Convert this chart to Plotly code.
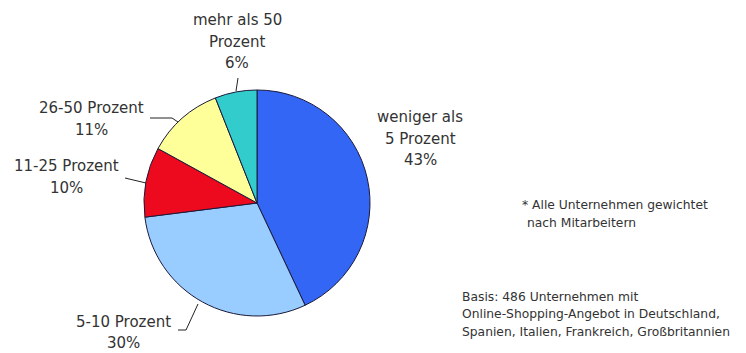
import plotly.graph_objects as go

# Anteil des Online-Umsatzes am Gesamtumsatz (Unternehmen gewichtet nach Mitarbeitern)
categories = ["weniger als 5 Prozent", "5-10 Prozent", "11-25 Prozent",
              "26-50 Prozent", "mehr als 50 Prozent"]
shares = [43, 30, 10, 11, 6]
colors = ["#3366F5", "#99CCFF", "#EE0A1E", "#FFFF99", "#33CCCC"]

W, H = 746, 353
TEXT = "#333333"
FONT = "DejaVu Sans, Verdana, sans-serif"


def px(x):
    return x / W


def py(y):
    return 1 - y / H


# pie centre and radius in pixels
cx, cy, r = 257, 203, 113

fig = go.Figure(go.Pie(
    labels=categories,
    values=shares,
    sort=False,
    direction="clockwise",
    rotation=0,
    marker=dict(colors=colors, line=dict(color="#1a1a3a", width=1)),
    textinfo="none",
    hoverinfo="label+percent",
    showlegend=False,
    domain=dict(x=[px(cx - r), px(cx + r)], y=[py(cy + r), py(cy - r)]),
))

# slice labels: text lines, horizontal centre, line centres (pixels)
label_lines = {
    "mehr als 50 Prozent": (["mehr als 50", "Prozent", f"{shares[4]}%"], 237, [20, 42, 63]),
    "weniger als 5 Prozent": (["weniger als", "5 Prozent", f"{shares[0]}%"], 420, [117, 139, 160]),
    "26-50 Prozent": (["26-50 Prozent", f"{shares[3]}%"], 91, [108, 130]),
    "11-25 Prozent": (["11-25 Prozent", f"{shares[2]}%"], 66, [166, 188]),
    "5-10 Prozent": (["5-10 Prozent", f"{shares[1]}%"], 123, [322, 343]),
}

annotations = []
for name, (lines, xc, ys) in label_lines.items():
    for txt, yy in zip(lines, ys):
        annotations.append(dict(
            x=px(xc), y=py(yy), xref="paper", yref="paper",
            text=txt, showarrow=False, xanchor="center", yanchor="middle",
            font=dict(family=FONT, size=15, color=TEXT),
        ))

notes = [
    ("* Alle Unternehmen gewichtet", 520, 205),
    ("nach Mitarbeitern", 525, 223),
    ("Basis: 486 Unternehmen mit", 460, 297),
    ("Online-Shopping-Angebot in Deutschland,", 460, 314),
    ("Spanien, Italien, Frankreich, Großbritannien", 460, 332),
]
for txt, xx, yy in notes:
    annotations.append(dict(
        x=px(xx), y=py(yy), xref="paper", yref="paper",
        text=txt, showarrow=False, xanchor="left", yanchor="middle",
        font=dict(family=FONT, size=12.3, color=TEXT),
    ))

# leader lines from labels to slices (pixel paths)
leaders = [
    [(238, 78), (236, 91)],
    [(150, 118), (172, 118), (178, 122)],
    [(125, 178), (146, 183)],
    [(178, 330), (186, 330), (198, 304)],
]
shapes = []
for pts in leaders:
    path = "M " + " L ".join(f"{px(x)},{py(y)}" for x, y in pts)
    shapes.append(dict(type="path", xref="paper", yref="paper", path=path,
                       line=dict(color="#222222", width=1)))

fig.update_layout(
    width=W, height=H,
    margin=dict(l=0, r=0, t=0, b=0),
    paper_bgcolor="white", plot_bgcolor="white",
    annotations=annotations, shapes=shapes,
)

fig.write_html("out.html")
